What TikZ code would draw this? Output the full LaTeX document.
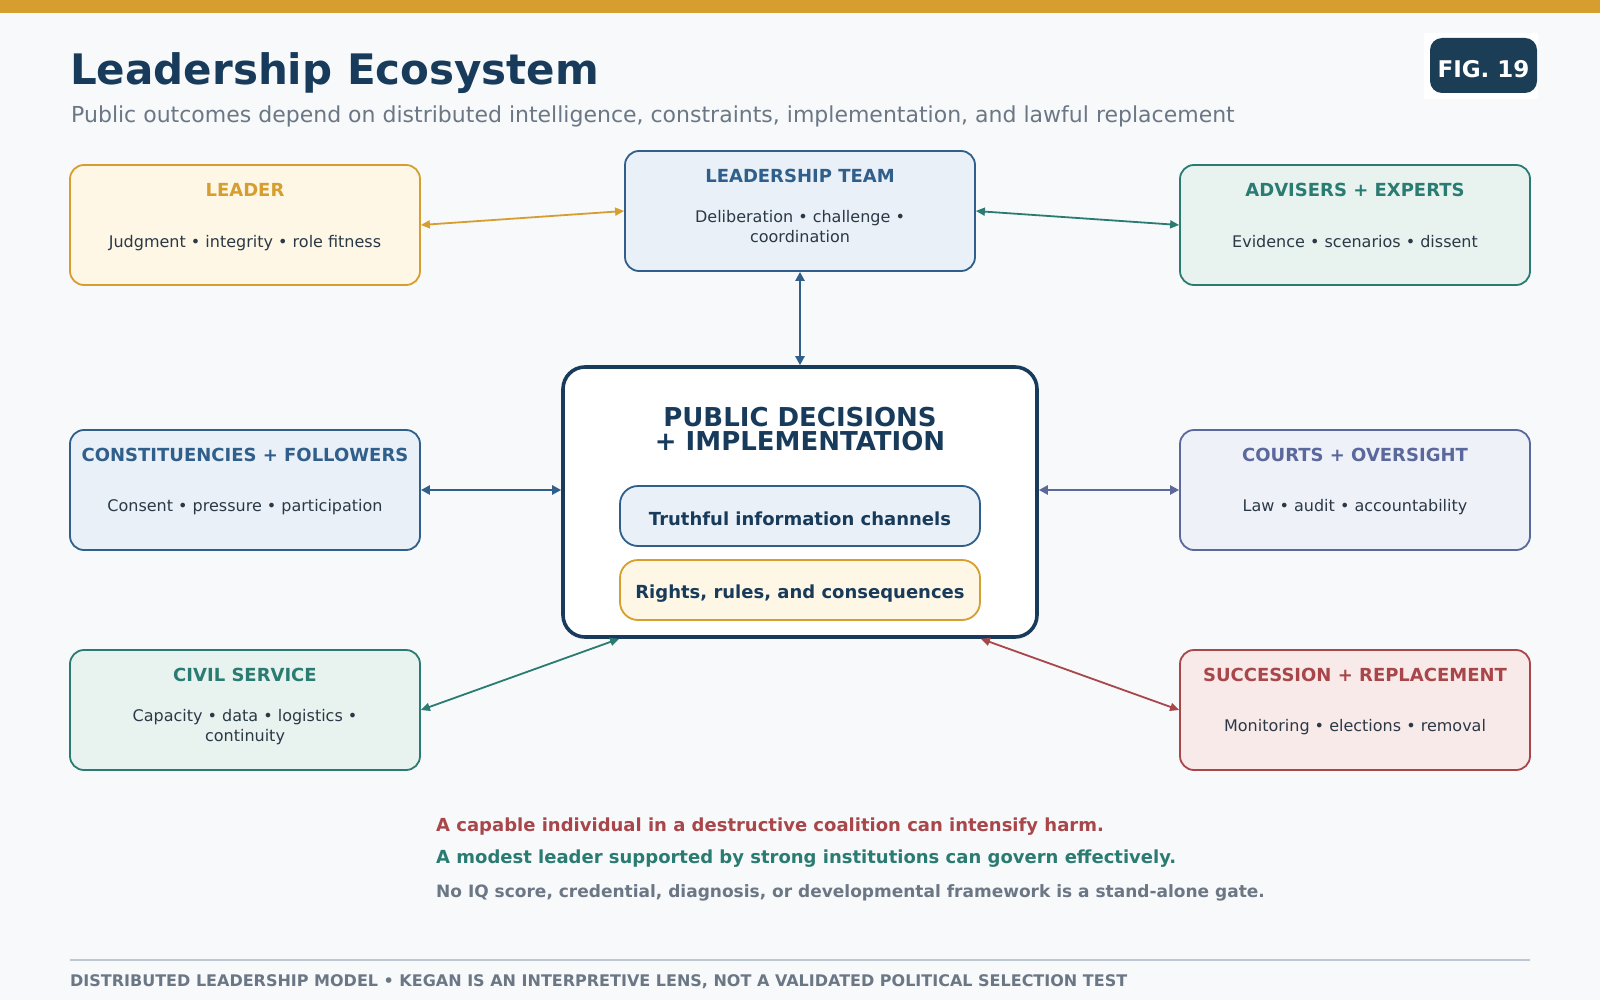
\documentclass[tikz,border=0pt]{standalone}
\usepackage{fontspec}
\setmainfont{DejaVu Sans}
\usetikzlibrary{arrows.meta,calc}
\definecolor{bgc}{HTML}{F7F9FB}
\definecolor{goldc}{HTML}{D69E2E}
\definecolor{goldfill}{HTML}{FEF7E6}
\definecolor{navyc}{HTML}{183B5B}
\definecolor{bluec}{HTML}{2F5F8A}
\definecolor{bluefill}{HTML}{E9F0F7}
\definecolor{tealc}{HTML}{2A7B72}
\definecolor{tealfill}{HTML}{E8F3F0}
\definecolor{purpc}{HTML}{5A689C}
\definecolor{purpfill}{HTML}{EEF1F8}
\definecolor{redc}{HTML}{A8464A}
\definecolor{redfill}{HTML}{F9EAEA}
\definecolor{grayc}{HTML}{6B7785}
\definecolor{bodyc}{HTML}{2B3845}
\definecolor{badgec}{HTML}{1B3D56}
\definecolor{rulec}{HTML}{BCC7D2}
\begin{document}
\begin{tikzpicture}[x=1pt,y=-1pt,
  card/.style 2 args={draw=#1, fill=#2, line width=1.8pt, rounded corners=14pt,
    minimum width=350pt, minimum height=120pt, inner sep=0pt},
  ttl/.style={font=\bfseries\fontsize{18}{22}\selectfont, anchor=base, inner sep=0pt},
  bodyt/.style={font=\fontsize{16}{20}\selectfont, text=bodyc, anchor=base, inner sep=0pt},
  pill/.style 2 args={draw=#1, fill=#2, line width=1.8pt, rounded corners=18pt,
    minimum width=360pt, minimum height=60pt, inner sep=0pt},
  pilltext/.style={anchor=base, inner sep=0pt, font=\bfseries\fontsize{18}{22}\selectfont, text=navyc},
  link/.style={draw=#1, line width=2.6pt, {Triangle[length=9pt,width=9pt]}-{Triangle[length=9pt,width=9pt]}},
  thinlink/.style={draw=#1, line width=1.8pt, {Triangle[length=9pt,width=8pt]}-{Triangle[length=9pt,width=8pt]}},
  note/.style={anchor=base west, inner sep=0pt, font=\bfseries\fontsize{18}{22}\selectfont}
]
\useasboundingbox (0,0) rectangle (1600,1000);
\fill[bgc] (0,0) rectangle (1600,1000);
\fill[goldc] (0,0) rectangle (1600,13);

% header
\node[anchor=base west, inner sep=0pt, text=navyc, font=\bfseries\fontsize{42}{50}\selectfont] (title) at (70,85) {Leadership Ecosystem};
\node[anchor=base west, inner sep=0pt, text=grayc, font=\fontsize{22}{26}\selectfont] (subtitle) at (71,123) {Public outcomes depend on distributed intelligence, constraints, implementation, and lawful replacement};
\fill[white] (1424,33) rectangle (1538,99);
\node[fill=badgec, rounded corners=12pt, minimum width=107pt, minimum height=55pt, inner sep=0pt] (fig) at (1483.5,65.5) {};
\node[anchor=base, inner sep=0pt, text=white, font=\bfseries\fontsize{23}{26}\selectfont] (figT) at (1483.5,77.5) {FIG. 19};

% cards
\node[card={goldc}{goldfill}] (leader) at (245,225) {};
\node[ttl, text=goldc] (leaderT) at (245,197) {LEADER};
\node[bodyt] (leaderB) at (245,247.5) {Judgment • integrity • role fitness};

\node[card={bluec}{bluefill}] (team) at (800,211) {};
\node[ttl, text=bluec] (teamT) at (800,183) {LEADERSHIP TEAM};
\node[bodyt] (teamB1) at (800,223) {Deliberation • challenge •};
\node[bodyt] (teamB2) at (800,243) {coordination};

\node[card={tealc}{tealfill}] (adv) at (1355,225) {};
\node[ttl, text=tealc] (advT) at (1355,197) {ADVISERS + EXPERTS};
\node[bodyt] (advB) at (1355,247.5) {Evidence • scenarios • dissent};

\node[card={bluec}{bluefill}] (const) at (245,490) {};
\node[ttl, text=bluec] (constT) at (245,461.5) {CONSTITUENCIES + FOLLOWERS};
\node[bodyt] (constB) at (245,511.5) {Consent • pressure • participation};

\node[card={purpc}{purpfill}] (courts) at (1355,490) {};
\node[ttl, text=purpc] (courtsT) at (1355,461.5) {COURTS + OVERSIGHT};
\node[bodyt] (courtsB) at (1355,511.5) {Law • audit • accountability};

\node[card={tealc}{tealfill}] (civil) at (245,710) {};
\node[ttl, text=tealc] (civilT) at (245,681.5) {CIVIL SERVICE};
\node[bodyt] (civilB1) at (245,721.5) {Capacity • data • logistics •};
\node[bodyt] (civilB2) at (245,741.5) {continuity};

\node[card={redc}{redfill}] (succ) at (1355,710) {};
\node[ttl, text=redc] (succT) at (1355,681.5) {SUCCESSION + REPLACEMENT};
\node[bodyt] (succB) at (1355,731.5) {Monitoring • elections • removal};

% central
\node[draw=navyc, fill=white, line width=3.6pt, rounded corners=22pt, minimum width=474pt, minimum height=270pt, inner sep=0pt] (center) at (800,502) {};
\node[anchor=base, inner sep=0pt, text=navyc, font=\bfseries\fontsize{26}{30}\selectfont] (centerT1) at (800,426) {PUBLIC DECISIONS};
\node[anchor=base, inner sep=0pt, text=navyc, font=\bfseries\fontsize{26}{30}\selectfont] (centerT2) at (800,450) {+ IMPLEMENTATION};
\node[pill={bluec}{bluefill}] (truth) at (800,516) {};
\node[pilltext] (truthT) at (800,525) {Truthful information channels};
\node[pill={goldc}{goldfill}] (rights) at (800,590) {};
\node[pilltext] (rightsT) at (800,598.5) {Rights, rules, and consequences};

\coordinate (cbl) at (center.south -| truth.west);
\coordinate (cbr) at (center.south -| truth.east);

% connectors
\draw[thinlink=goldc] (leader.east) -- (team.west);
\draw[thinlink=tealc] (team.east) -- (adv.west);
\draw[link=bluec] (team.south) -- (center.north);
\draw[link=bluec] (const.east) -- (const.east -| center.west);
\draw[link=purpc] (center.east |- courts.west) -- (courts.west);
\draw[thinlink=tealc] (civil.east) -- (cbl);
\draw[thinlink=redc] (cbr) -- (succ.west);

% notes
\node[note, text=redc] (note1) at (436,831) {A capable individual in a destructive coalition can intensify harm.};
\node[note, text=tealc] (note2) at (436,863) {A modest leader supported by strong institutions can govern effectively.};
\node[note, text=grayc, font=\bfseries\fontsize{17}{20}\selectfont] (note3) at (436,897) {No IQ score, credential, diagnosis, or developmental framework is a stand-alone gate.};

% footer
\draw[rulec, line width=2pt] (70,960) -- (1530,960);
\node[anchor=base west, inner sep=0pt, text=grayc, font=\bfseries\fontsize{16}{18}\selectfont] (footer) at (70,986) {DISTRIBUTED LEADERSHIP MODEL • KEGAN IS AN INTERPRETIVE LENS, NOT A VALIDATED POLITICAL SELECTION TEST};
\end{tikzpicture}
\end{document}
